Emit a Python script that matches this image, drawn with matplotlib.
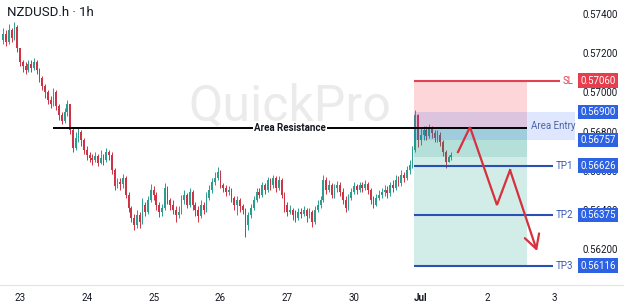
import numpy as np
import matplotlib
matplotlib.use("Agg")
import matplotlib.pyplot as plt
from matplotlib.lines import Line2D
from matplotlib.transforms import blended_transform_factory

plt.rcParams["font.family"] = ["Roboto", "DejaVu Sans"]

# hourly NZDUSD candles (open of each bar = previous close)
first_open = 0.57267
closes = [
    0.57298, 0.57257, 0.57318, 0.57277, 0.57333, 0.57226, 0.57155, 0.57134, 0.57114, 0.57145,
    0.57124, 0.57155, 0.57114, 0.57073, 0.57032, 0.57002, 0.56961, 0.56941, 0.57002, 0.56930,
    0.56885, 0.56854, 0.56900, 0.56941, 0.56808, 0.56716, 0.56767, 0.56798, 0.56757, 0.56706,
    0.56681, 0.56665, 0.56655, 0.56675, 0.56640, 0.56665, 0.56655, 0.56696, 0.56681, 0.56604,
    0.56522, 0.56543, 0.56533, 0.56563, 0.56477, 0.56410, 0.56359, 0.56324, 0.56375, 0.56339,
    0.56426, 0.56390, 0.56451, 0.56502, 0.56477, 0.56426, 0.56390, 0.56410, 0.56512, 0.56451,
    0.56426, 0.56400, 0.56375, 0.56390, 0.56451, 0.56477, 0.56426, 0.56492, 0.56426, 0.56400,
    0.56369, 0.56426, 0.56400, 0.56461, 0.56502, 0.56543, 0.56563, 0.56594, 0.56528, 0.56512,
    0.56492, 0.56502, 0.56461, 0.56426, 0.56451, 0.56420, 0.56400, 0.56324, 0.56375, 0.56410,
    0.56451, 0.56492, 0.56477, 0.56528, 0.56502, 0.56553, 0.56528, 0.56563, 0.56512, 0.56553,
    0.56477, 0.56426, 0.56390, 0.56400, 0.56375, 0.56359, 0.56390, 0.56380, 0.56400, 0.56369,
    0.56390, 0.56339, 0.56400, 0.56426, 0.56451, 0.56553, 0.56502, 0.56528, 0.56477, 0.56512,
    0.56528, 0.56492, 0.56451, 0.56410, 0.56461, 0.56492, 0.56522, 0.56502, 0.56528, 0.56512,
    0.56533, 0.56502, 0.56451, 0.56426, 0.56461, 0.56477, 0.56492, 0.56502, 0.56487, 0.56528,
    0.56512, 0.56553, 0.56538, 0.56579, 0.56563, 0.56604, 0.56630, 0.56706, 0.56885, 0.56757,
    0.56783, 0.56808, 0.56777, 0.56818, 0.56793, 0.56767, 0.56783, 0.56747, 0.56696, 0.56645,
    0.56670, 0.56681,
]
highs = [
    0.57328, 0.57318, 0.57349, 0.57328, 0.57359, 0.57344, 0.57226, 0.57165, 0.57155, 0.57165,
    0.57165, 0.57175, 0.57165, 0.57124, 0.57083, 0.57043, 0.57012, 0.56981, 0.57022, 0.57012,
    0.56941, 0.56900, 0.56920, 0.56961, 0.56941, 0.56818, 0.56798, 0.56818, 0.56808, 0.56767,
    0.56726, 0.56696, 0.56686, 0.56696, 0.56686, 0.56706, 0.56686, 0.56716, 0.56706, 0.56696,
    0.56614, 0.56563, 0.56563, 0.56584, 0.56573, 0.56492, 0.56420, 0.56380, 0.56400, 0.56390,
    0.56461, 0.56441, 0.56471, 0.56533, 0.56522, 0.56492, 0.56441, 0.56431, 0.56538, 0.56522,
    0.56461, 0.56451, 0.56420, 0.56420, 0.56477, 0.56502, 0.56487, 0.56512, 0.56502, 0.56441,
    0.56420, 0.56451, 0.56441, 0.56492, 0.56528, 0.56563, 0.56594, 0.56619, 0.56604, 0.56538,
    0.56528, 0.56522, 0.56512, 0.56471, 0.56471, 0.56461, 0.56431, 0.56410, 0.56390, 0.56431,
    0.56471, 0.56512, 0.56512, 0.56543, 0.56538, 0.56568, 0.56563, 0.56579, 0.56573, 0.56573,
    0.56563, 0.56492, 0.56441, 0.56426, 0.56410, 0.56400, 0.56410, 0.56410, 0.56420, 0.56410,
    0.56410, 0.56400, 0.56420, 0.56451, 0.56471, 0.56579, 0.56568, 0.56553, 0.56538, 0.56533,
    0.56548, 0.56543, 0.56512, 0.56471, 0.56482, 0.56512, 0.56543, 0.56533, 0.56543, 0.56543,
    0.56553, 0.56543, 0.56512, 0.56471, 0.56482, 0.56502, 0.56512, 0.56528, 0.56522, 0.56543,
    0.56553, 0.56579, 0.56573, 0.56604, 0.56594, 0.56624, 0.56655, 0.56726, 0.56910, 0.56890,
    0.56818, 0.56828, 0.56828, 0.56839, 0.56828, 0.56808, 0.56808, 0.56798, 0.56757, 0.56706,
    0.56681, 0.56696,
]
lows = [
    0.57247, 0.57236, 0.57247, 0.57257, 0.57267, 0.57206, 0.57134, 0.57104, 0.57094, 0.57104,
    0.57104, 0.57114, 0.57094, 0.57053, 0.57012, 0.56971, 0.56941, 0.56920, 0.56930, 0.56910,
    0.56859, 0.56839, 0.56844, 0.56879, 0.56788, 0.56696, 0.56706, 0.56747, 0.56726, 0.56686,
    0.56655, 0.56645, 0.56630, 0.56645, 0.56624, 0.56635, 0.56630, 0.56645, 0.56655, 0.56584,
    0.56502, 0.56512, 0.56502, 0.56512, 0.56461, 0.56390, 0.56339, 0.56298, 0.56308, 0.56308,
    0.56329, 0.56369, 0.56380, 0.56441, 0.56451, 0.56400, 0.56364, 0.56369, 0.56400, 0.56431,
    0.56400, 0.56380, 0.56339, 0.56359, 0.56380, 0.56431, 0.56410, 0.56415, 0.56400, 0.56369,
    0.56339, 0.56359, 0.56380, 0.56390, 0.56451, 0.56487, 0.56528, 0.56553, 0.56512, 0.56492,
    0.56471, 0.56477, 0.56441, 0.56400, 0.56375, 0.56390, 0.56380, 0.56262, 0.56298, 0.56359,
    0.56400, 0.56441, 0.56461, 0.56466, 0.56482, 0.56492, 0.56502, 0.56512, 0.56492, 0.56502,
    0.56461, 0.56390, 0.56369, 0.56380, 0.56349, 0.56339, 0.56349, 0.56359, 0.56369, 0.56339,
    0.56359, 0.56313, 0.56329, 0.56390, 0.56410, 0.56441, 0.56482, 0.56492, 0.56461, 0.56461,
    0.56492, 0.56471, 0.56431, 0.56390, 0.56400, 0.56451, 0.56482, 0.56482, 0.56492, 0.56492,
    0.56502, 0.56482, 0.56431, 0.56410, 0.56420, 0.56451, 0.56461, 0.56471, 0.56461, 0.56471,
    0.56492, 0.56502, 0.56522, 0.56522, 0.56543, 0.56553, 0.56584, 0.56614, 0.56696, 0.56721,
    0.56732, 0.56757, 0.56757, 0.56767, 0.56767, 0.56747, 0.56747, 0.56726, 0.56675, 0.56614,
    0.56645, 0.56655,
]

day_ticks = [6, 30, 54, 78, 102, 126, 150, 174, 198]
day_labels = ["23", "24", "25", "26", "27", "30", "Jul", "2", "3"]
price_ticks = [0.562, 0.564, 0.566, 0.568, 0.570, 0.572, 0.574]

# trade setup levels
sl_price = 0.57060
entry_top = 0.56900
entry_bottom = 0.56757
resistance = 0.56820
tp_prices = [0.56626, 0.56375, 0.56116]
tp_names = ["TP1", "TP2", "TP3"]
inner_green_bottom = 0.56670

zone_start, zone_end = 147.6, 188.2
entry_end = 205.4
resistance_start = 17.9
sl_line_end = 200.0
tp_line_end = 197.5

# expected path drawn on the chart
path_x = [163.4, 167.7, 177.4, 182.1, 191.8]
path_y = [0.56696, 0.56823, 0.56426, 0.56604, 0.56191]

green = "#2a9d8f"
red = "#cc3344"
blue_box = "#2d62e3"
red_box = "#e63e4c"

fig = plt.figure(figsize=(6.24, 3.08), dpi=100)
ax = fig.add_axes([0, 23 / 308, 576 / 624, 285 / 308])
ax.set_xlim(-1.19, 205.8)
ax.set_ylim(0.56018, 0.57471)
for s in ax.spines.values():
    s.set_visible(False)

# watermark
ax.text(0.503, 0.628, "QuickPro", transform=ax.transAxes, fontsize=36,
        color="#ebebeb", ha="center", va="center", zorder=0)

# candles
c = np.array(closes)
o = np.array([first_open] + closes[:-1])
x = np.arange(len(c))
cols = np.where(c >= o, green, red)
ax.vlines(x, lows, highs, colors=cols, lw=0.7, zorder=2)
ax.bar(x, np.maximum(np.abs(c - o), 0.00002), bottom=np.minimum(o, c),
       width=0.62, color=cols, linewidth=0, zorder=2)

# position zones
ax.fill_between([zone_start, zone_end], resistance, sl_price,
                color="#f23645", alpha=0.2, lw=0, zorder=3)
ax.fill_between([zone_start, zone_end], tp_prices[2], resistance,
                color="#089981", alpha=0.18, lw=0, zorder=3)
ax.fill_between([zone_start, zone_end], inner_green_bottom, resistance,
                color="#089981", alpha=0.14, lw=0, zorder=3)
ax.fill_between([zone_start, entry_end], entry_bottom, entry_top,
                color="#2962ff", alpha=0.15, lw=0, zorder=3)
ax.text(tp_line_end, (entry_top + entry_bottom) / 2, "Area Entry", fontsize=7,
        color="#4e66a8", ha="center", va="center", zorder=6)

# resistance
ax.hlines(resistance, resistance_start, zone_end, color="black", lw=1.4, zorder=4)
ax.text(103, resistance, "Area Resistance", fontsize=7, fontweight="bold",
        ha="center", va="center", color="#131722", zorder=5,
        bbox=dict(boxstyle="square,pad=0.15", fc="white", ec="none"))

# SL / TP lines
ax.hlines(sl_price, zone_start, sl_line_end, color="#e0434f", lw=1.5, zorder=4)
ax.text(0.995, sl_price, "SL", transform=blended_transform_factory(ax.transAxes, ax.transData),
        fontsize=7, color="#e0434f", ha="right", va="center", zorder=6)
for p, name in zip(tp_prices, tp_names):
    ax.hlines(p, zone_start, tp_line_end, color="#2a4fb5", lw=1.5, zorder=4)
    ax.text(0.995, p, name, transform=blended_transform_factory(ax.transAxes, ax.transData),
            fontsize=7, color="#3a5bb5", ha="right", va="center", zorder=6)

# projected move
ax.plot(path_x[:-1], path_y[:-1], color="#d6313c", lw=1.6, zorder=5,
        solid_joinstyle="miter")
ax.annotate("", xy=(path_x[-1], path_y[-1]), xytext=(path_x[-2], path_y[-2]),
            arrowprops=dict(arrowstyle="->,head_length=0.55,head_width=0.3",
                            color="#d6313c", lw=1.6, shrinkA=0, shrinkB=0,
                            mutation_scale=18), zorder=5)

# axes ticks
ax.yaxis.tick_right()
ax.set_yticks(price_ticks)
ax.set_yticklabels([f"{p:.5f}" for p in price_ticks])
ax.tick_params(axis="y", length=0, pad=5, labelsize=7, labelcolor="#131722")
ax.set_xticks(day_ticks)
ax.set_xticklabels(day_labels)
ax.tick_params(axis="x", length=0, pad=6, labelsize=7, labelcolor="#131722")
ax.get_xticklabels()[6].set_fontweight("bold")

# price labels on the scale
bt = blended_transform_factory(ax.transAxes, ax.transData)
boxes = [(sl_price, red_box), (entry_top, blue_box), (entry_bottom, blue_box)]
boxes += [(p, blue_box) for p in tp_prices]
for p, col in boxes:
    ax.text(1.007, p, f"{p:.5f}", transform=bt, fontsize=7, color="white",
            ha="left", va="center", zorder=10, clip_on=False,
            bbox=dict(boxstyle="square,pad=0.25", fc=col, ec="none"))

fig.add_artist(Line2D([0, 1], [23 / 308, 23 / 308], transform=fig.transFigure,
                      color="#e0e3eb", lw=0.8))
fig.text(7 / 624, 1 - 13 / 308, "NZDUSD.h · 1h", fontsize=9.5, color="#131722",
         va="center", ha="left")

fig.savefig("out.png", dpi=100)
